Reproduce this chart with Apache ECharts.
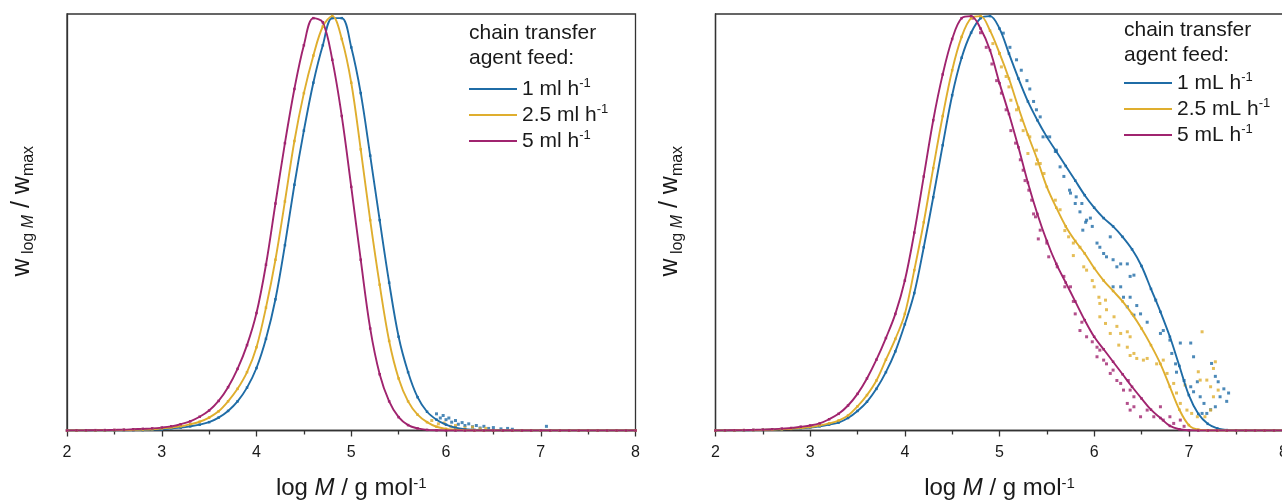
<!DOCTYPE html>
<html>
<head>
<meta charset="utf-8">
<script src="https://cdn.jsdelivr.net/npm/echarts@6/dist/echarts.min.js"></script>
<style>
  html, body { margin: 0; padding: 0; background: #fff; }
  #chart { width: 1282px; height: 500px; }
</style>
</head>
<body>
<div id="chart"></div>
<script>
// log M grid shared by all distribution curves
const logM = [2.0,2.1,2.2,2.3,2.4,2.5,2.6,2.7,2.8,2.9,3.0,3.1,3.2,3.3,3.4,3.5,3.6,3.7,3.8,3.9,
  4.0,4.1,4.2,4.3,4.4,4.5,4.6,4.7,4.8,4.9,5.0,5.1,5.2,5.3,5.4,5.5,5.6,5.7,5.8,5.9,
  6.0,6.1,6.2,6.3,6.4,6.5,6.6,6.7,6.8,6.9,7.0,7.1,7.2,7.3,7.4,7.5,7.6,7.7,7.8,7.9,8.0];

// Left panel: normalised MWD, one curve per CTA feed rate
const left1 = [0,0,0.0001,0.0002,0.0003,0.0004,0.0006,0.0008,0.001,0.002,
  0.003,0.005,0.007,0.010,0.014,0.02,0.031,0.047,0.07,0.103,
  0.15,0.22,0.315,0.445,0.59,0.72,0.835,0.925,0.99,0.99,
  0.92,0.81,0.66,0.505,0.355,0.225,0.14,0.08,0.045,0.026,
  0.014,0.0065,0.003,0.0015,0.0005,0,0,0,0,0,0,0,0,0,0,0,0,0,0,0,0];
const left25 = [0,0.0001,0.0002,0.0004,0.0006,0.0008,0.001,0.0015,0.002,0.003,
  0.005,0.007,0.010,0.015,0.021,0.031,0.046,0.07,0.10,0.14,
  0.20,0.295,0.41,0.55,0.695,0.81,0.90,0.97,0.995,0.94,
  0.835,0.675,0.505,0.35,0.215,0.125,0.07,0.038,0.02,0.009,
  0.004,0.002,0.001,0.0005,0,0,0,0,0,0,0,0,0,0,0,0,0,0,0,0,0];
const left5 = [0,0.0003,0.0005,0.0008,0.001,0.0015,0.002,0.003,0.004,0.005,
  0.007,0.010,0.015,0.022,0.033,0.048,0.071,0.104,0.148,0.205,
  0.282,0.398,0.545,0.69,0.82,0.925,0.99,0.98,0.89,0.755,
  0.585,0.41,0.245,0.135,0.07,0.032,0.013,0.005,0.0015,0.0005,
  0,0,0,0,0,0,0,0,0,0,0,0,0,0,0,0,0,0,0,0,0];

// Right panel curves
const right1 = [0,0.0001,0.0003,0.0005,0.001,0.0015,0.002,0.003,0.004,0.005,
  0.007,0.01,0.014,0.019,0.03,0.047,0.069,0.10,0.14,0.19,
  0.255,0.33,0.44,0.56,0.685,0.805,0.895,0.955,0.99,0.995,
  0.965,0.905,0.845,0.79,0.745,0.705,0.67,0.635,0.60,0.565,
  0.535,0.51,0.49,0.465,0.435,0.395,0.34,0.285,0.225,0.155,
  0.085,0.04,0.016,0.005,0.001,0,0,0,0,0,0];
const right25 = [0,0.0002,0.0004,0.0008,0.001,0.0015,0.002,0.003,0.004,0.006,
  0.008,0.012,0.017,0.024,0.036,0.058,0.085,0.12,0.17,0.22,
  0.28,0.385,0.50,0.63,0.755,0.865,0.945,0.99,0.995,0.96,
  0.906,0.845,0.775,0.71,0.65,0.585,0.535,0.49,0.455,0.425,
  0.39,0.36,0.335,0.31,0.28,0.245,0.205,0.16,0.105,0.05,
  0.013,0.002,0.0005,0,0,0,0,0,0,0,0];
const right5 = [0,0.0003,0.0006,0.001,0.0015,0.002,0.003,0.0045,0.006,0.009,
  0.012,0.017,0.027,0.04,0.06,0.088,0.125,0.17,0.222,0.28,
  0.36,0.475,0.61,0.745,0.855,0.94,0.99,0.995,0.965,0.913,
  0.834,0.76,0.68,0.595,0.52,0.455,0.40,0.355,0.31,0.265,
  0.225,0.195,0.165,0.135,0.105,0.077,0.05,0.03,0.011,0.003,
  0.0005,0,0,0,0,0,0,0,0,0,0];

// Measured points that stray from the curves (high-M tails)
const leftDots1 = [[5.9,0.04],[5.94,0.03],[5.97,0.036],[6.0,0.026],[6.03,0.03],[6.06,0.02],
  [6.1,0.024],[6.13,0.015],[6.17,0.019],[6.2,0.012],[6.24,0.016],[6.28,0.009],[6.32,0.012],
  [6.36,0.006],[6.4,0.01],[6.45,0.005],[6.5,0.007],[6.58,0.004],[6.65,0.005],[6.7,0.003],
  [7.06,0.01]];
const leftDots25 = [[5.85,0.024],[5.92,0.016],[5.98,0.018],[6.05,0.01],[6.1,0.012],[6.2,0.006],
  [6.28,0.008],[6.36,0.004],[6.42,0.005]];

const rightDots1 = [[5.04,0.954],[5.11,0.92],[5.18,0.89],[5.23,0.865],[5.29,0.84],[5.32,0.82],
  [5.36,0.79],[5.39,0.77],[5.43,0.753],[5.46,0.705],[5.53,0.705],[5.59,0.67],[5.6,0.673],
  [5.64,0.633],[5.68,0.61],[5.74,0.577],[5.75,0.57],[5.8,0.545],[5.81,0.561],[5.85,0.525],
  [5.87,0.545],[5.88,0.481],[5.91,0.5],[5.92,0.505],[5.96,0.51],[5.98,0.49],[6.03,0.45],
  [6.06,0.44],[6.1,0.425],[6.13,0.417],[6.17,0.465],[6.2,0.41],[6.24,0.393],[6.28,0.4],
  [6.35,0.4],[6.38,0.37],[6.42,0.373],[6.2,0.345],[6.28,0.345],[6.31,0.32],[6.38,0.32],
  [6.35,0.297],[6.45,0.3],[6.49,0.28],[6.42,0.277],[6.56,0.26],[6.65,0.313],[6.7,0.233],
  [6.73,0.24],[6.8,0.217],[6.91,0.21],[7.02,0.21],[7.05,0.177],[6.82,0.185],[6.86,0.16],
  [6.87,0.14],[6.95,0.12],[7.02,0.105],[7.05,0.093],[7.09,0.117],[7.12,0.081],[7.16,0.065],
  [7.19,0.041],[7.24,0.161],[7.28,0.13],[7.31,0.117],[7.33,0.081],[7.42,0.09],[7.23,0.05],
  [7.14,0.041],[7.28,0.057],[7.37,0.1],[7.4,0.07]];
const rightDots25 = [[4.93,0.929],[5.0,0.905],[5.02,0.873],[5.07,0.85],[5.1,0.825],[5.12,0.793],
  [5.18,0.77],[5.23,0.745],[5.25,0.72],[5.32,0.705],[5.3,0.665],[5.39,0.64],[5.39,0.673],
  [5.43,0.641],[5.47,0.617],[5.59,0.553],[5.64,0.53],[5.69,0.48],[5.73,0.465],[5.78,0.45],
  [5.85,0.44],[5.78,0.42],[5.89,0.393],[5.92,0.385],[5.98,0.36],[6.0,0.345],[6.05,0.32],
  [6.06,0.305],[6.12,0.313],[6.13,0.29],[6.06,0.273],[6.12,0.257],[6.21,0.273],[6.24,0.25],
  [6.17,0.233],[6.28,0.233],[6.35,0.237],[6.38,0.225],[6.26,0.205],[6.35,0.2],[6.42,0.185],
  [6.45,0.173],[6.52,0.169],[6.38,0.18],[6.56,0.173],[6.66,0.16],[6.73,0.169],[6.77,0.137],
  [6.84,0.113],[6.87,0.09],[6.91,0.065],[6.96,0.109],[6.98,0.049],[7.03,0.041],[7.09,0.033],
  [7.1,0.141],[7.14,0.237],[7.12,0.121],[7.19,0.121],[7.23,0.105],[7.26,0.149],[7.28,0.165],
  [7.26,0.081],[7.17,0.033],[7.23,0.049],[7.31,0.097]];
const rightDots5 = [[4.72,0.99],[4.8,0.955],[4.86,0.92],[4.92,0.88],[4.97,0.84],[5.02,0.81],
  [5.07,0.77],[5.12,0.72],[5.17,0.69],[5.22,0.65],[5.25,0.625],[5.27,0.6],[5.31,0.577],
  [5.34,0.553],[5.36,0.52],[5.38,0.513],[5.43,0.481],[5.41,0.46],[5.5,0.45],[5.52,0.417],
  [5.61,0.393],[5.68,0.37],[5.69,0.345],[5.75,0.345],[5.78,0.31],[5.8,0.28],[5.87,0.26],
  [5.85,0.24],[5.92,0.225],[5.98,0.213],[6.03,0.2],[6.06,0.193],[6.03,0.177],[6.1,0.169],
  [6.13,0.16],[6.2,0.145],[6.24,0.12],[6.17,0.137],[6.28,0.113],[6.31,0.097],[6.36,0.12],
  [6.38,0.097],[6.42,0.081],[6.35,0.065],[6.38,0.049],[6.42,0.057],[6.49,0.033],[6.56,0.049],
  [6.63,0.033],[6.7,0.057],[6.73,0.025],[6.8,0.033],[6.84,0.017],[6.91,0.025],[6.95,0.01]];

const leftNames = ['1 ml h', '2.5 ml h', '5 ml h'];
const rightNames = ['1 mL h', '2.5 mL h', '5 mL h'];
const colors = ['#1f6ca6', '#dfae2e', '#a0246f'];

const FONT = 'Liberation Sans, Arial, Helvetica, sans-serif';
const INK = '#1a1a1a';
const FRAME = '#333';

function curve(name, ys, color, gi) {
  return {
    name: name, type: 'line', xAxisIndex: gi, yAxisIndex: gi,
    data: logM.map((x, i) => [x, ys[i]]),
    smooth: 0.35, showSymbol: true, showAllSymbol: true,
    symbol: 'rect', symbolSize: 2.5,
    itemStyle: { color: color },
    lineStyle: { color: color, width: 1.9 },
    clip: true, silent: true
  };
}
function dots(name, pts, color, gi) {
  return {
    name: name, type: 'scatter', xAxisIndex: gi, yAxisIndex: gi,
    data: pts, symbol: 'rect', symbolSize: 3,
    itemStyle: { color: color }, silent: true
  };
}

function xAxisFor(gi) {
  return {
    gridIndex: gi, type: 'value', min: 2, max: 8, interval: 1,
    axisLine: { show: true, onZero: false, lineStyle: { color: FRAME, width: 1.3 } },
    axisTick: { show: true, length: 6, lineStyle: { color: FRAME, width: 1.3 } },
    minorTick: { show: true, splitNumber: 2, length: 4, lineStyle: { color: FRAME, width: 1.3 } },
    splitLine: { show: false },
    axisLabel: { fontSize: 16, color: INK, margin: 14, fontFamily: FONT },
    name: '{a|log }{i|M}{a| / g mol}{p|-1}',
    nameLocation: 'middle', nameGap: 46,
    nameTextStyle: {
      fontFamily: FONT, color: INK, fontSize: 24,
      rich: {
        a: { fontSize: 24, fontFamily: FONT, color: INK },
        i: { fontSize: 24, fontFamily: FONT, color: INK, fontStyle: 'italic' },
        p: { fontSize: 15, fontFamily: FONT, color: INK, verticalAlign: 'top', lineHeight: 8 }
      }
    }
  };
}
function yAxisFor(gi) {
  return {
    gridIndex: gi, type: 'value', min: 0, max: 1,
    axisLine: { show: true, lineStyle: { color: FRAME, width: 1.3 } },
    axisTick: { show: false }, axisLabel: { show: false }, splitLine: { show: false },
    name: '{w|w}{s| log }{si|M}{w| / w}{s|max}',
    nameLocation: 'middle', nameRotate: 90, nameGap: 30,
    nameTextStyle: {
      fontFamily: FONT, color: INK, fontSize: 24,
      padding: [0, 0, 0, 22],
      rich: {
        w: { fontSize: 25, fontFamily: FONT, color: INK, lineHeight: 30 },
        s: { fontSize: 16, fontFamily: FONT, color: INK, verticalAlign: 'bottom', lineHeight: 12 },
        si: { fontSize: 16, fontFamily: FONT, color: INK, fontStyle: 'italic', verticalAlign: 'bottom', lineHeight: 12 }
      }
    }
  };
}
function legendFor(names, left, top) {
  return {
    data: names, orient: 'vertical', left: left, top: top,
    icon: 'rect', itemWidth: 48, itemHeight: 2, itemGap: 2,
    selectedMode: false, padding: 0,
    formatter: n => n + '{p|-1}',
    textStyle: {
      fontSize: 21, fontFamily: FONT, color: INK, lineHeight: 24,
      rich: { p: { fontSize: 13, fontFamily: FONT, color: INK, verticalAlign: 'top', lineHeight: 6 } }
    }
  };
}

const chart = echarts.init(document.getElementById('chart'), null, { renderer: 'canvas' });
chart.setOption({
  animation: false,
  backgroundColor: '#fff',
  title: [
    { text: 'chain transfer\nagent feed:', left: 469, top: 21, padding: 0,
      textStyle: { fontSize: 21, fontWeight: 'normal', fontFamily: FONT, color: INK, lineHeight: 25 } },
    { text: 'chain transfer\nagent feed:', left: 1124, top: 18, padding: 0,
      textStyle: { fontSize: 21, fontWeight: 'normal', fontFamily: FONT, color: INK, lineHeight: 25 } }
  ],
  legend: [legendFor(leftNames, 469, 77), legendFor(rightNames, 1124, 71)],
  grid: [
    { left: 67, top: 14, width: 568.5, height: 416.5, outerBoundsMode: 'none', containLabel: false,
      show: true, borderColor: FRAME, borderWidth: 1.3, backgroundColor: 'transparent' },
    { left: 715.5, top: 14, width: 568, height: 416.5, outerBoundsMode: 'none', containLabel: false,
      show: true, borderColor: FRAME, borderWidth: 1.3, backgroundColor: 'transparent' }
  ],
  xAxis: [xAxisFor(0), xAxisFor(1)],
  yAxis: [yAxisFor(0), yAxisFor(1)],
  series: [
    curve(leftNames[0], left1, colors[0], 0),
    curve(leftNames[1], left25, colors[1], 0),
    curve(leftNames[2], left5, colors[2], 0),
    dots('tail 1 ml', leftDots1, colors[0], 0),
    dots('tail 2.5 ml', leftDots25, colors[1], 0),
    curve(rightNames[0], right1, colors[0], 1),
    curve(rightNames[1], right25, colors[1], 1),
    curve(rightNames[2], right5, colors[2], 1),
    dots('tail 1 mL', rightDots1, colors[0], 1),
    dots('tail 2.5 mL', rightDots25, colors[1], 1),
    dots('tail 5 mL', rightDots5, colors[2], 1)
  ]
});
</script>
</body>
</html>
